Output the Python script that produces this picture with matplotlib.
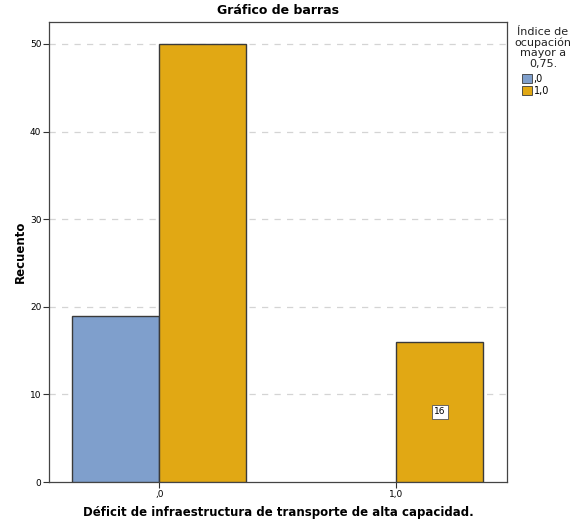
import matplotlib
matplotlib.use("Agg")
import matplotlib.pyplot as plt
from matplotlib.patches import Patch

categories = [",0", "1,0"]
series_names = [",0", "1,0"]
values_blue = [19, 0]
values_yellow = [50, 16]
yticks = [0, 10, 20, 30, 40, 50]

blue = "#7F9FCC"
yellow = "#E1A814"
edge = "#3a3a3a"

fig = plt.figure(figsize=(5.71, 5.25), dpi=100)
ax = fig.add_axes([49/571, 1-482/525, (507-49)/571, (482-22)/525])

w = 0.367
x = [0, 1]
for i in range(2):
    if values_blue[i] > 0:
        ax.bar(x[i] - w/2, values_blue[i], width=w, color=blue, edgecolor=edge, linewidth=1.0, zorder=3)
    if values_yellow[i] > 0:
        ax.bar(x[i] + w/2, values_yellow[i], width=w, color=yellow, edgecolor=edge, linewidth=1.0, zorder=3)

ax.text(1 + w/2, values_yellow[1]/2, str(values_yellow[1]), ha="center", va="center", fontsize=6.5,
        bbox=dict(boxstyle="square,pad=0.25", facecolor="white", edgecolor="#555555", linewidth=0.6), zorder=4)

ax.set_xlim(-0.465, 1.467)
ax.set_ylim(0, 52.5)
ax.set_yticks(yticks)
ax.set_yticklabels([str(t) for t in yticks], fontsize=6.5)
ax.set_xticks(x)
ax.set_xticklabels(categories, fontsize=6.5)
ax.tick_params(axis="both", length=4, width=0.8, color="#333333", pad=1.5)
for t in yticks[1:]:
    ax.axhline(t, color="#d4d4d4", linestyle=(0, (5, 5)), linewidth=0.9, zorder=1)
for s in ax.spines.values():
    s.set_color("#444444")
    s.set_linewidth(0.9)

ax.set_ylabel("Recuento", fontsize=8.5, fontweight="bold", labelpad=2)
ax.set_xlabel("Déficit de infraestructura de transporte de alta capacidad.", fontsize=8.5, fontweight="bold", labelpad=5)
fig.text(278/571, 1-10/525, "Gráfico de barras", ha="center", va="center", fontsize=9, fontweight="bold")

fig.text(543/571, 1-27/525, "Índice de\nocupación\nmayor a\n0,75.", ha="center", va="top", fontsize=8,
         linespacing=1.05, color="#222222")
handles = [Patch(facecolor=blue, edgecolor=edge, linewidth=0.6), Patch(facecolor=yellow, edgecolor=edge, linewidth=0.6)]
fig.legend(handles, series_names, loc="upper left", bbox_to_anchor=(522/571, 1-74/525), frameon=False,
           fontsize=7, handlelength=1.0, handleheight=1.0, handletextpad=0.2, labelspacing=0.2, borderpad=0,
           borderaxespad=0)

fig.savefig("out.png", dpi=100)
